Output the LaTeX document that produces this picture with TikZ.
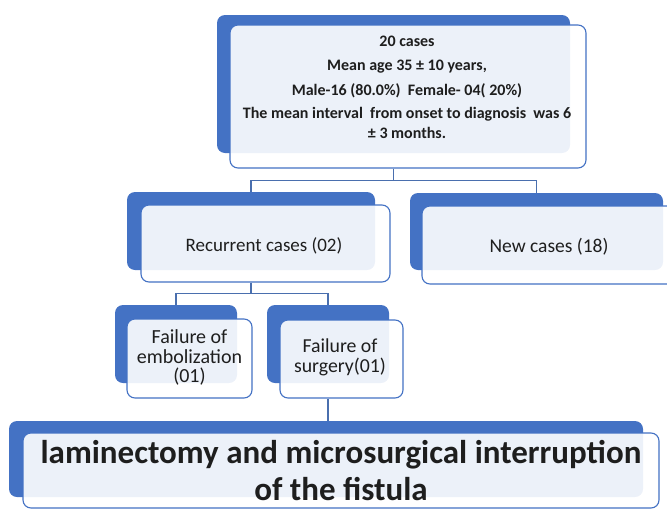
\documentclass[tikz,border=0pt]{standalone}
\usepackage{fontspec}
\setmainfont{Carlito}
\definecolor{smblue}{HTML}{4472C4}
\definecolor{lineblue}{HTML}{4A6FAE}
\definecolor{txt}{HTML}{1E1E1E}
\begin{document}
\begin{tikzpicture}[x=1pt,y=-1pt,
  backbox/.style={draw=none,fill=smblue,rounded corners=8pt,inner sep=0pt},
  frontbox/.style={draw=smblue,line width=1.1pt,fill=white,fill opacity=0.9,draw opacity=1,rounded corners=8pt,inner sep=0pt},
  lbl/.style={text=txt,align=center,inner sep=0pt},
  conn/.style={draw=lineblue,line width=1.3pt}]
\useasboundingbox (0,0) rectangle (667,509);
\clip (0,0) rectangle (667,509);
% top
\node[backbox,minimum width=353pt,minimum height=138pt] (topB) at (393.5,84) {};
\node[frontbox,minimum width=356pt,minimum height=143pt] (topF) at (408,96.5) {};
\node[lbl,font=\bfseries\fontsize{16}{20}\selectfont] (topT) at (407,87)
  {20 cases\\[4.5pt]Mean age 35 ± 10 years,\\[4.5pt]Male-16 (80.0\%)~ Female- 04( 20\%)\\[3pt]The mean interval~ from onset to diagnosis~ was 6\\± 3 months.};
% level 1
\node[backbox,minimum width=248pt,minimum height=78pt] (recB) at (251,231) {};
\node[frontbox,minimum width=249pt,minimum height=77pt] (recF) at (265.5,243.5) {};
\node[lbl,font=\fontsize{19}{22}\selectfont] (recT) at (264,246) {Recurrent cases (02)};
\node[backbox,minimum width=253pt,minimum height=77pt] (newB) at (536.5,231.5) {};
\node[frontbox,minimum width=254pt,minimum height=78pt] (newF) at (549,245) {};
\node[lbl,font=\fontsize{19.5}{22}\selectfont] (newT) at (549,247) {New cases (18)};
% level 2
\node[backbox,minimum width=122pt,minimum height=78pt] (embB) at (176,344) {};
\node[frontbox,minimum width=125pt,minimum height=79pt] (embF) at (189.5,358.5) {};
\node[lbl,font=\fontsize{20}{19.5}\selectfont] (embT) at (189.5,357.5) {Failure of\\embolization\\(01)};
\node[backbox,minimum width=122pt,minimum height=78pt] (surB) at (328,344) {};
\node[frontbox,minimum width=123pt,minimum height=78pt] (surF) at (341.5,359) {};
\node[lbl,font=\fontsize{19.8}{20}\selectfont] (surT) at (340,357) {Failure of\\surgery(01)};
% bottom
\node[backbox,minimum width=634pt,minimum height=76pt] (botB) at (326,459) {};
\node[frontbox,minimum width=636pt,minimum height=75pt] (botF) at (341,470.5) {};
\node[lbl,font=\bfseries\fontsize{33}{37}\selectfont] (botT) at (341,470.5) {laminectomy and microsurgical interruption\\of the fistula};
% connectors
\draw[conn] (topB.south |- topF.south) -- ++(0,12) -| (recB.north);
\draw[conn] (topB.south |- topF.south) -- ++(0,12) -| (newB.north);
\draw[conn] (recB.south |- recF.south) -- ++(0,11) -| (embB.north);
\draw[conn] (recB.south |- recF.south) -- ++(0,11) -| (surB.north);
\draw[conn] (surB.south |- surF.south) -- (surB.south |- botB.north);
\end{tikzpicture}
\end{document}
